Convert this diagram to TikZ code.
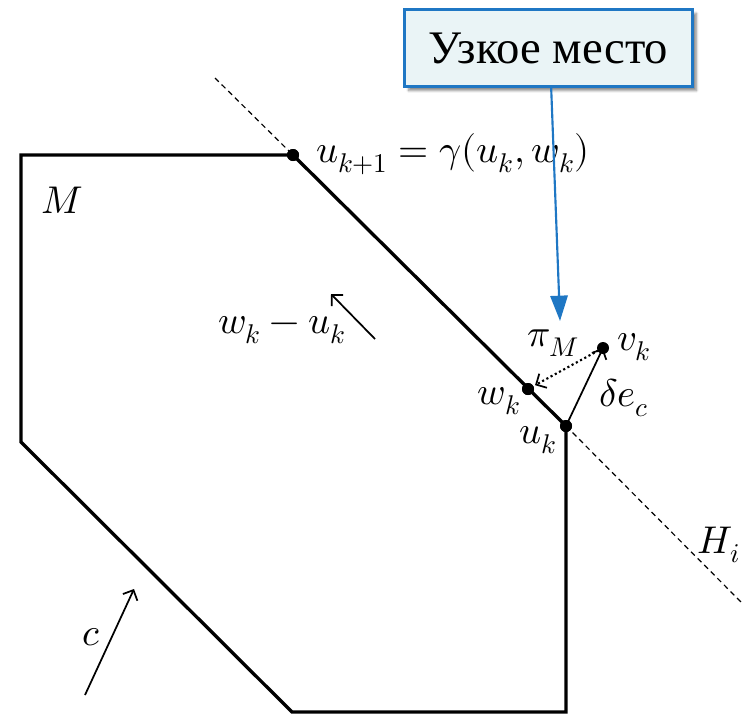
\documentclass[tikz,border=0pt]{standalone}
\usepackage{fontspec}
\usepackage{unicode-math}
\setmathfont{Latin Modern Math}
\newfontfamily\cyrfont{Liberation Serif}
\usetikzlibrary{arrows.meta,shadows,shadows.blur}
\definecolor{boxblue}{HTML}{1F77C4}
\definecolor{boxfill}{HTML}{EAF4F6}
\begin{document}
\begin{tikzpicture}[x=0.75pt,y=-0.75pt,
  poly/.style={line width=2.5pt,line join=miter},
  hline/.style={line width=0.9pt,dash pattern=on 4pt off 3pt},
  dot/.style={circle,fill=black,inner sep=0pt,minimum size=9pt},
  lbl/.style={font=\fontsize{29}{34}\selectfont,inner sep=0pt},
  vec/.style={line width=1.3pt,-{Straight Barb[length=6pt,width=12pt,line width=1.3pt]}},
  callout/.style={draw=boxblue,line width=1.8pt,fill=boxfill,minimum width=216pt,minimum height=58pt,
    font=\cyrfont\fontsize{35}{40}\selectfont,blur shadow={shadow xshift=3pt,shadow yshift=-3pt,shadow blur steps=6,shadow opacity=45}},
  pointer/.style={draw=boxblue,line width=1.6pt,-{Triangle[length=19pt,width=13pt]}}
]
\useasboundingbox (0,0) rectangle (748,714);
% hyperplane H_i
\coordinate (h1) at (215,78);
\coordinate (h2) at (743,604);
\node[dot] (uk1) at (293,155) {};
\node[dot] (uk) at (566,426) {};
\node[dot] (wk) at (528,389) {};
\node[dot] (vk) at (603,348) {};
\draw[hline] (h1) -- (uk1.center);
\draw[hline] (uk.center) -- (h2);
% polygon M
\coordinate (p1) at (21,155);
\coordinate (p2) at (21,442);
\coordinate (p3) at (292,712);
\coordinate (p4) at (566,712);
\draw[poly] (uk.center) -- (p4) -- (p3) -- (p2) -- (p1) -- (uk1.center) -- cycle;
\node[dot] at (uk1) {};
\node[dot] at (uk) {};
\node[dot] at (wk) {};
% vectors
\draw[vec] (uk.center) -- (vk.center);
\draw[line width=1.6pt,dotted,-{Straight Barb[length=6pt,width=12pt,line width=1.3pt]},shorten >=6pt] (vk.center) -- (wk.center);
\coordinate (d1) at (375,339);
\coordinate (d2) at (331,294);
\draw[vec] (d1) -- (d2);
\coordinate (c1) at (85,695);
\coordinate (c2) at (134,589);
\draw[vec] (c1) -- (c2);
% labels
\node[lbl] (lM) at (62,200) {$M$};
\node[lbl,anchor=west] (luk1) at (316,154) {$u_{k+1}=\gamma(u_k,w_k)$};
\node[lbl] (ldir) at (282,330) {$w_k-u_k$};
\node[lbl] (lpi) at (553,343) {$\pi_M$};
\node[lbl] (lvk) at (634,347) {$v_k$};
\node[lbl] (lwk) at (499,401) {$w_k$};
\node[lbl] (lde) at (624,398) {$\delta e_c$};
\node[lbl] (luk) at (538,440) {$u_k$};
\node[lbl] (lH) at (719,545) {$H_i$};
\node[lbl] (lc) at (91,637) {$c$};
% callout
\node[callout] (box) at (548.5,48) {Узкое место};
\coordinate (tip) at (560,321);
\draw[pointer] ([xshift=2pt]box.south) -- (tip);
\end{tikzpicture}
\end{document}
